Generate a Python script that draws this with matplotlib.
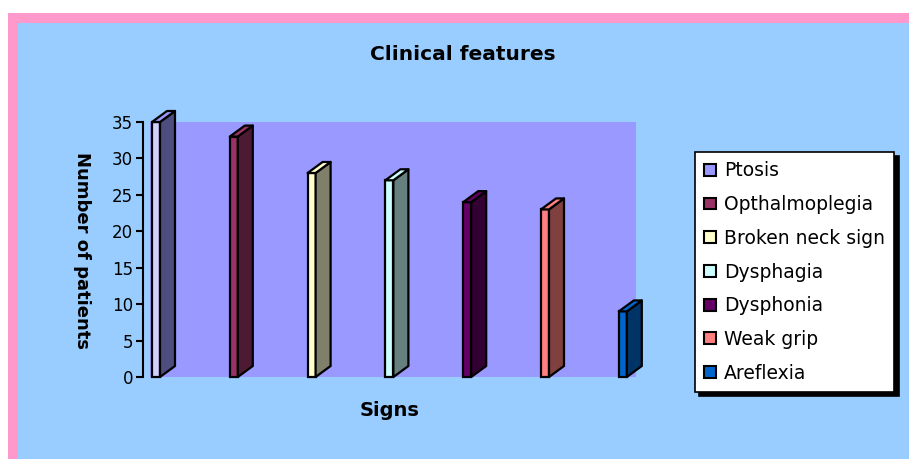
"""Clinical features: pseudo-3D column chart of the number of patients per sign."""

import matplotlib
matplotlib.use("Agg")
from matplotlib import pyplot as plt
from matplotlib.patches import Patch, Polygon, Rectangle

plt.rcParams["font.family"] = ["DejaVu Sans"]

signs = ["Ptosis", "Opthalmoplegia", "Broken neck sign", "Dysphagia",
         "Dysphonia", "Weak grip", "Areflexia"]
patients = [35, 33, 28, 27, 24, 23, 9]
y_ticks = [0, 5, 10, 15, 20, 25, 30, 35]

# front / side / top colours of each column
FRONT = ["#D0D0FF", "#993366", "#FFFFCC", "#CCFFFF", "#660066", "#FF8080", "#0066CC"]
SIDE = ["#4D4D80", "#4D1A33", "#80806A", "#668080", "#330033", "#804040", "#003366"]
TOP = ["#9999FF", "#993366", "#FFFFCC", "#CCFFFF", "#660066", "#FF8080", "#0066CC"]
LEGEND = ["#9999FF", "#993366", "#FFFFCC", "#CCFFFF", "#660066", "#FF8080", "#0066CC"]

W, H = 909, 459


def fx(px):
    return px / W


def fy(py):
    return 1 - py / H


fig = plt.figure(figsize=(W / 100, H / 100), dpi=100, facecolor="white")
fig.patches.append(Rectangle((fx(8), 0), 1 - fx(8), fy(13), transform=fig.transFigure,
                             facecolor="#FF99CC", edgecolor="none", zorder=-10))
fig.patches.append(Rectangle((fx(18), 0), 1 - fx(18), fy(23), transform=fig.transFigure,
                             facecolor="#99CCFF", edgecolor="none", zorder=-9))

ax = fig.add_axes([fx(143), fy(377), fx(636) - fx(143), (377 - 122) / H])
ax.set_facecolor("none")

step = 77.8          # px between columns
x0 = 156             # px of first column centre
ax.set_xlim((143 - x0) / step, (636 - x0) / step)
ax.set_ylim(0, 35)
ax.axvspan((150 - x0) / step, (636 - x0) / step, color="#9999FF", zorder=0, lw=0)

w = 8 / step          # front face width
dx = 15 / step        # depth offset
dy = 11 / (255 / 35)

for i, v in enumerate(patients):
    ax.bar(i, v, width=w, color=FRONT[i], edgecolor="black", linewidth=1.6,
           clip_on=False, zorder=3)
    r = i + w / 2
    l = i - w / 2
    ax.add_patch(Polygon([(r, 0), (r, v), (r + dx, v + dy), (r + dx, dy)], closed=True,
                         facecolor=SIDE[i], edgecolor="black", linewidth=1.6,
                         joinstyle="round", clip_on=False, zorder=3))
    ax.add_patch(Polygon([(l, v), (r, v), (r + dx, v + dy), (l + dx, v + dy)], closed=True,
                         facecolor=TOP[i], edgecolor="black", linewidth=1.6,
                         joinstyle="round", clip_on=False, zorder=3))

for s in ["top", "right", "bottom"]:
    ax.spines[s].set_visible(False)
ax.spines["left"].set_linewidth(1.5)
ax.set_xticks([])
ax.set_yticks(y_ticks)
ax.tick_params(axis="y", direction="out", length=5, width=1.5, labelsize=12, pad=2)

fig.text(fx(463), fy(54), "Clinical features", fontsize=14.5, fontweight="bold",
         ha="center", va="center")
fig.text(fx(390), fy(411), "Signs", fontsize=14, fontweight="bold",
         ha="center", va="center")
fig.text(fx(82), fy(250), "Number of patients", fontsize=13, fontweight="bold",
         rotation=270, ha="center", va="center")

handles = [Patch(facecolor=c, edgecolor="black", linewidth=1.5) for c in LEGEND]
leg = fig.legend(handles, signs, loc="upper left",
                 bbox_to_anchor=(fx(695), fy(152)), borderaxespad=0,
                 fontsize=13.5, handlelength=0.6, handleheight=0.6,
                 handletextpad=0.45, labelspacing=0.785, borderpad=0.5,
                 fancybox=False, framealpha=1, edgecolor="black",
                 shadow={"color": "black", "alpha": 1, "ox": 3, "oy": -3})
leg.get_frame().set_linewidth(1.2)

fig.savefig("out.png", dpi=100, facecolor="white")
